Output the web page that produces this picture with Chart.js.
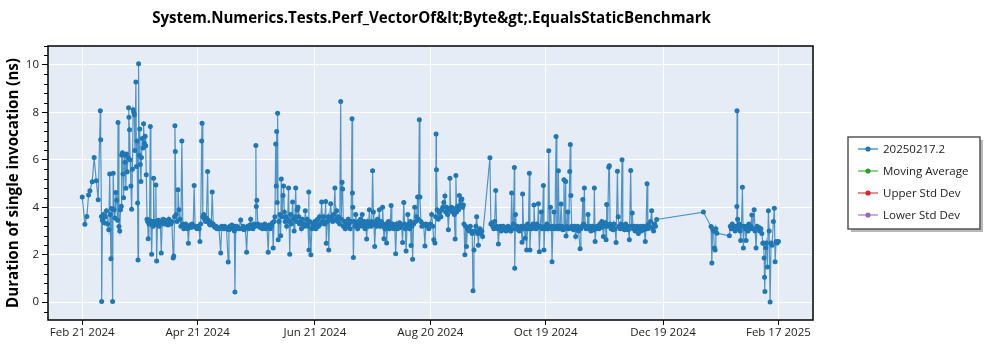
<!DOCTYPE html>
<html>
<head>
<meta charset="utf-8">
<script src="https://cdn.jsdelivr.net/npm/chart.js@4.4.1/dist/chart.umd.min.js"></script>
<style>
  body { margin: 0; background: #fff; }
  #wrap { width: 1000px; height: 350px; }
</style>
</head>
<body>
<div id="wrap"><canvas id="perfChart" width="1000" height="350"></canvas></div>
<script>
// run dates, as days after Feb 21 2024
var runDays = [
    0, 1.4, 2.4, 3.3, 4, 5.2, 6.2, 7.3, 8.3, 9.4,
    9.6, 10, 10.1, 10.5, 11, 11.5, 12, 12.6, 13.2, 13.8,
    14.3, 14.6, 14.9, 15.3, 15.8, 16.1, 16.6, 17, 17.5, 17.9,
    18.4, 18.6, 19.1, 19.5, 19.9, 20.3, 20.5, 20.9, 21.2, 21.5,
    21.9, 22.3, 22.7, 23.0, 23.4, 23.8, 24.1, 24.3, 24.6, 24.9,
    25.3, 25.7, 26.1, 26.5, 26.8, 27.1, 27.4, 27.9, 28.2, 28.5,
    28.8, 29.0, 29.3, 29.6, 29.9, 30.2, 30.5, 30.8, 31.2, 31.6,
    31.9, 32.3, 32.7, 33.0, 33.3, 33.7, 34.0, 34.3, 34.7, 35.0,
    35.4, 35.7, 36.1, 36.5, 36.8, 37.1, 37.5, 37.9, 38.3, 38.7,
    39.1, 39.6, 40.1, 40.6, 41.1, 41.6, 42.1, 42.6, 43.1, 43.6,
    44.1, 44.6, 45.1, 45.6, 46.1, 46.6, 47.3, 47.6, 48.0, 48.2,
    48.4, 48.8, 49.3, 49.8, 50.3, 50.8, 51.3, 51.8, 52.3, 52.8,
    53.3, 53.8, 54.3, 54.8, 55.2, 55.7, 56.2, 56.7, 57.2, 57.7,
    58.2, 58.7, 59.2, 59.7, 60.2, 60.8, 61.2, 61.6, 62.1, 62.3,
    62.7, 63.2, 63.6, 64.1, 64.6, 65.2, 65.6, 66.1, 66.6, 67.1,
    67.6, 68.1, 68.6, 69.1, 69.6, 70.1, 70.6, 71.1, 72.0, 72.5,
    73.0, 73.5, 74.0, 74.5, 75.0, 75.9, 76.3, 76.8, 77.3, 77.8,
    78.3, 78.8, 79.1, 79.4, 79.8, 80.3, 80.8, 81.5, 82.4, 83.0,
    83.6, 84.2, 84.8, 85.5, 86.0, 86.6, 87.2, 87.6, 88.2, 88.8,
    89.4, 90.0, 90.3, 90.5, 90.8, 91.3, 91.9, 92.5, 93.1, 93.7,
    94.3, 94.9, 95.5, 96.1, 96.7, 97.2, 97.8, 98.4, 98.9, 99.3,
    99.8, 100.2, 100.6, 100.9, 101.1, 101.4, 101.6, 101.9, 102.3, 102.8,
    103.2, 103.5, 104.0, 104.4, 104.7, 105.1, 105.5, 105.9, 106.3, 106.8,
    107.3, 107.6, 107.9, 108.3, 108.8, 109.4, 109.8, 110.2, 110.6, 111.0,
    111.4, 111.8, 112.2, 112.6, 113.0, 113.5, 114.0, 114.5, 115.0, 115.5,
    116.0, 116.5, 117.0, 117.4, 117.8, 117.9, 118.3, 118.9, 119.4, 119.9,
    120.4, 120.9, 121.4, 121.9, 122.4, 122.9, 123.4, 123.9, 124.5, 125.0,
    125.5, 126.0, 126.6, 126.9, 127.4, 127.9, 128.2, 128.6, 129.2, 129.7,
    130.2, 130.8, 131.4, 131.8, 132.3, 132.8, 133.3, 133.9, 134.4, 134.7,
    135.1, 135.4, 135.8, 136.3, 136.8, 137.3, 137.8, 138.3, 138.8, 139.3,
    139.8, 140.3, 140.5, 140.7, 141.0, 141.4, 141.8, 142.2, 142.7, 143.2,
    143.7, 144.2, 144.7, 145.2, 145.6, 146.1, 146.6, 147.1, 147.5, 147.9,
    148.4, 148.9, 149.3, 149.8, 150.3, 150.6, 151.0, 151.4, 151.7, 152.1,
    152.6, 153.1, 153.6, 154.0, 154.5, 155.0, 155.5, 156.0, 156.2, 156.6,
    156.9, 157.4, 157.9, 158.3, 158.8, 159.3, 159.8, 160.2, 160.6, 161.0,
    161.5, 162.0, 162.5, 163.0, 163.5, 164.0, 164.5, 165.0, 165.5, 166.0,
    166.6, 167.2, 167.6, 168.0, 168.4, 168.9, 169.3, 169.8, 170.3, 170.7,
    171.0, 171.4, 171.8, 172.3, 172.9, 173.4, 173.9, 174.4, 174.8, 175.3,
    175.6, 176.1, 176.6, 177.1, 177.6, 178.2, 178.7, 179.2, 179.7, 180.2,
    181.0, 181.7, 182.3, 182.8, 183.4, 183.8, 184.0, 184.2, 184.6, 185.1,
    185.5, 186.0, 186.5, 187.0, 187.5, 188.0, 188.6, 189.0, 189.5, 190.0,
    190.4, 190.8, 191.2, 191.6, 192.0, 192.5, 193.0, 193.5, 193.9, 194.3,
    194.7, 195.2, 195.7, 196.1, 196.6, 197.0, 197.4, 197.8, 198.2, 198.5,
    199.0, 199.4, 199.8, 200.3, 200.8, 201.3, 201.8, 202.3, 202.8, 203.2,
    203.7, 204.2, 204.7, 205.1, 205.6, 206.0, 206.4, 206.8, 207.3, 207.8,
    208.2, 212.0, 212.5, 213.0, 213.5, 214.0, 214.5, 215.0, 215.5, 216.0,
    216.4, 216.9, 217.4, 217.9, 218.4, 218.9, 219.4, 219.9, 220.4, 220.9,
    221.4, 221.9, 222.4, 222.9, 223.3, 223.8, 224.2, 224.7, 224.9, 225.3,
    225.8, 226.3, 226.8, 227.3, 227.8, 228.3, 228.7, 229.0, 229.5, 229.9,
    230.3, 230.7, 231.1, 231.6, 232.0, 232.5, 232.8, 233.3, 233.8, 234.4,
    234.9, 235.4, 235.9, 236.4, 236.8, 237.2, 237.7, 238.2, 238.7, 239.2,
    239.8, 240.1, 240.6, 241.1, 241.6, 242.1, 242.6, 243.0, 243.5, 244.0,
    244.3, 244.8, 245.3, 245.8, 246.4, 246.8, 247.2, 247.6, 248.0, 248.5,
    249.0, 249.5, 250.0, 250.5, 250.9, 251.4, 251.6, 252.0, 252.5, 253.0,
    253.5, 253.8, 254.1, 254.5, 255.0, 255.5, 256.0, 256.6, 257.1, 257.6,
    258.1, 258.9, 259.3, 259.8, 260.3, 260.7, 261.1, 261.5, 262.0, 262.5,
    263.0, 263.5, 264.0, 264.5, 265.0, 265.5, 266.0, 266.3, 266.7, 267.2,
    267.7, 268.2, 268.7, 269.2, 269.7, 270.2, 270.6, 271.0, 271.5, 272.0,
    272.4, 272.7, 273.2, 273.8, 274.1, 274.5, 275.0, 275.5, 276.0, 276.5,
    277.1, 277.6, 278.3, 278.7, 279.2, 279.7, 280.2, 280.7, 281.1, 281.6,
    282.1, 282.6, 283.1, 283.6, 284.0, 284.5, 285.2, 285.6, 286.0, 286.5,
    287.0, 287.5, 288.0, 288.5, 289.2, 289.7, 290.2, 290.7, 291.2, 291.7,
    292.2, 292.8, 293.2, 293.7, 294.1, 294.5, 295.0, 295.5, 296.1, 296.6,
    297.1, 297.6, 298.1, 298.7,
    323.0, 327.0, 327.4, 327.8, 328.3, 328.7, 329.1, 329.5, 330.0, 336.5,
    337.0, 337.5, 338.0, 338.5, 339.0, 339.5, 340.0, 340.4, 340.5, 340.8,
    341.2, 341.7, 342.1, 342.4, 342.8, 343.3, 343.8, 344.2, 344.7, 345.2,
    345.7, 346.2, 346.7, 347.2, 347.7, 348.2, 348.7, 349.4, 349.9, 350.4,
    350.9, 351.4, 351.9, 352.4, 352.9, 353.4, 353.9, 354.3, 354.6, 354.8,
    355.0, 355.4, 355.8, 356.3, 356.8, 357.2, 357.7, 358.2, 358.7, 359.4,
    359.9, 360.3, 360.8, 361.3, 362.0
];

// duration of single invocation, ns
var durations = [
    4.43, 3.29, 3.61, 4.52, 4.70, 5.08, 6.10, 5.12, 4.32, 8.07,
    6.85, 3.61, 0.03, 3.45, 3.70, 3.35, 3.60, 3.85, 3.30, 3.05,
    5.40, 3.70, 1.83, 3.95, 0.03, 5.44, 3.90, 3.55, 4.62, 4.30,
    3.45, 7.58, 3.19, 3.00, 3.90, 4.05, 6.21, 6.30, 5.40, 4.40,
    6.20, 5.90, 4.80, 6.25, 5.50, 6.10, 8.20, 7.80, 7.27, 6.00,
    4.90, 3.92, 5.60, 8.11, 8.00, 7.90, 6.40, 9.28, 5.72, 6.80,
    4.18, 1.78, 10.05, 6.20, 7.30, 5.80, 5.09, 6.10, 6.90, 6.50,
    7.52, 6.70, 7.00, 6.60, 5.37, 3.50, 3.40, 2.68, 3.30, 3.45,
    7.41, 3.30, 2.02, 3.40, 3.20, 5.22, 3.25, 3.40, 4.94, 1.74,
    3.30, 3.45, 3.20, 3.40, 2.07, 3.35, 3.50, 3.30, 3.45, 3.30,
    3.40, 3.25, 3.50, 3.35, 3.30, 3.40, 1.86, 1.95, 3.60, 7.44,
    6.35, 3.70, 3.40, 4.74, 3.90, 3.50, 3.20, 6.80, 3.30, 3.10,
    3.25, 3.30, 3.20, 3.10, 2.49, 3.20, 3.25, 3.15, 3.30, 3.20,
    4.92, 3.20, 3.15, 3.10, 3.20, 3.10, 2.56, 3.30, 6.80, 7.54,
    3.60, 3.70, 3.50, 3.40, 3.55, 5.51, 3.45, 3.30, 3.25, 3.35,
    4.65, 3.30, 3.20, 3.15, 3.20, 3.10, 3.15, 3.10, 2.07, 3.20,
    3.15, 3.10, 3.20, 3.10, 3.15, 1.70, 3.05, 3.20, 3.15, 3.25,
    3.10, 3.20, 3.00, 0.43, 3.10, 3.20, 3.15, 3.10, 3.47, 3.10,
    3.20, 3.05, 3.15, 2.11, 3.20, 3.10, 3.25, 3.50, 3.20, 3.10,
    3.30, 3.20, 6.61, 4.03, 4.30, 3.30, 3.20, 3.15, 3.25, 3.10,
    3.20, 3.30, 3.10, 3.20, 2.11, 3.25, 3.10, 3.20, 3.35, 2.28,
    3.40, 3.60, 6.67, 4.90, 7.20, 4.20, 7.97, 2.63, 3.40, 3.70,
    2.80, 5.19, 3.60, 4.50, 4.90, 3.80, 3.40, 3.60, 3.20, 3.50,
    4.81, 3.40, 2.02, 3.70, 3.30, 4.22, 3.50, 3.00, 3.60, 4.81,
    3.40, 3.90, 4.00, 3.60, 3.30, 3.40, 3.10, 3.50, 3.30, 3.20,
    3.85, 3.30, 3.50, 3.20, 4.65, 2.20, 3.40, 2.00, 3.10, 3.30,
    3.20, 3.40, 3.10, 3.30, 3.50, 3.20, 3.60, 3.30, 4.22, 3.40,
    3.60, 3.30, 4.25, 2.49, 3.40, 3.60, 2.20, 3.50, 4.15, 3.60,
    3.40, 3.70, 4.81, 3.50, 3.85, 3.40, 3.60, 3.30, 8.46, 3.50,
    5.06, 4.77, 3.20, 3.40, 3.10, 3.30, 3.20, 3.50, 3.30, 3.10,
    3.40, 7.73, 4.60, 4.00, 1.88, 3.40, 3.20, 3.70, 3.30, 3.10,
    3.40, 3.20, 3.50, 3.30, 3.70, 3.20, 3.40, 3.10, 3.30, 2.66,
    3.40, 3.20, 3.90, 3.30, 3.20, 3.40, 5.54, 3.80, 3.30, 2.35,
    3.40, 3.20, 3.50, 3.30, 3.90, 3.20, 3.40, 3.30, 4.00, 3.20,
    2.67, 3.10, 3.30, 2.50, 3.20, 3.40, 3.10, 3.30, 4.08, 3.20,
    3.30, 3.10, 3.20, 2.04, 3.30, 3.10, 3.20, 3.35, 3.15, 3.25,
    2.52, 4.20, 3.30, 3.10, 2.16, 3.20, 3.70, 3.30, 3.10, 3.40,
    2.39, 3.20, 1.81, 3.30, 4.00, 3.40, 3.60, 4.43, 3.50, 7.69,
    4.43, 3.40, 3.20, 3.30, 3.25, 2.37, 3.30, 3.20, 3.25, 3.10,
    3.30, 3.70, 3.20, 2.63, 2.50, 3.60, 7.09, 5.58, 3.90, 3.50,
    3.80, 3.80, 3.60, 3.90, 4.00, 4.20, 4.48, 3.80, 4.00, 3.70,
    3.05, 3.90, 5.23, 3.90, 4.00, 3.80, 3.95, 3.70, 2.66, 5.34,
    3.80, 4.05, 3.90, 4.50, 4.10, 4.30, 4.35, 4.00, 4.10, 3.30,
    2.00, 3.20, 2.35, 3.10, 3.05, 3.00, 3.20, 3.00, 2.90, 0.48,
    2.20, 3.00, 3.20, 3.60, 2.90, 2.40, 3.00, 3.10, 2.90, 3.00,
    2.77, 6.09, 3.30, 3.35, 3.20, 3.10, 3.40, 4.71, 3.20, 3.10,
    2.45, 3.10, 3.20, 3.00, 3.10, 3.20, 3.05, 3.15, 3.00, 3.10,
    3.20, 3.05, 3.15, 3.00, 4.60, 3.10, 3.30, 5.68, 1.43, 3.70,
    3.10, 3.20, 3.05, 3.00, 3.15, 3.20, 2.53, 4.56, 3.10, 3.20,
    2.70, 3.10, 2.20, 3.30, 3.10, 5.44, 2.20, 3.20, 3.10, 3.30,
    4.10, 3.20, 3.10, 3.30, 3.15, 4.15, 2.13, 3.20, 3.80, 3.10,
    4.92, 2.20, 3.20, 3.10, 3.30, 3.10, 6.38, 3.20, 4.00, 3.10,
    1.71, 3.20, 3.80, 3.10, 6.99, 3.20, 3.10, 5.54, 3.20, 3.10,
    4.14, 3.20, 3.05, 5.16, 3.10, 5.09, 2.79, 3.20, 3.80, 3.10,
    5.51, 6.65, 4.50, 3.20, 3.10, 3.05, 3.20, 2.77, 3.10, 3.20,
    3.00, 2.25, 3.10, 3.20, 4.33, 3.30, 4.81, 3.20, 3.10, 3.20,
    3.70, 3.10, 3.20, 3.00, 3.10, 3.20, 3.05, 4.81, 2.56, 3.10,
    3.20, 3.20, 3.10, 3.30, 3.15, 3.40, 3.20, 2.77, 3.20, 3.35,
    2.63, 4.12, 3.20, 5.69, 5.75, 3.30, 3.10, 3.20, 3.05, 3.30,
    3.10, 2.52, 5.52, 3.60, 3.20, 3.10, 3.30, 6.00, 3.10, 3.20,
    3.05, 3.30, 3.15, 3.20, 3.05, 2.63, 5.55, 3.20, 3.76, 3.10,
    3.20, 3.00, 3.10, 3.20, 2.90, 3.10, 3.20, 3.00, 3.10, 3.20,
    3.05, 2.56, 3.20, 4.99, 3.10, 3.30, 3.20, 3.40, 3.85, 3.10,
    3.00, 3.30, 3.20, 3.49,
    3.80, 3.19, 1.65, 3.10, 3.00, 2.28, 2.20, 3.10, 2.91, 2.80,
    3.20, 3.10, 3.30, 3.10, 3.20, 3.00, 3.20, 4.03, 8.07, 3.50,
    3.10, 3.30, 3.00, 2.60, 3.20, 4.85, 2.28, 3.20, 3.10, 2.60,
    3.20, 3.00, 3.30, 3.10, 3.20, 3.68, 3.10, 3.90, 3.00, 2.28,
    3.20, 3.10, 3.15, 3.00, 3.10, 2.90, 2.49, 2.50, 1.86, 1.05,
    0.45, 2.30, 2.50, 1.48, 3.85, 3.00, 0.01, 2.50, 2.40, 3.40,
    3.96, 1.71, 2.56, 2.50, 2.56
];

var tickDays = [0, 60, 121, 181, 241, 302, 362];
var tickLabels = ["Feb 21 2024", "Apr 21 2024", "Jun 21 2024", "Aug 20 2024", "Oct 19 2024", "Dec 19 2024", "Feb 17 2025"];
var yTicks = [0, 2, 4, 6, 8, 10];

var seriesNames = ["20250217.2", "Moving Average", "Upper Std Dev", "Lower Std Dev"];
var seriesColors = ["#1f77b4", "#2ca02c", "#d62728", "#9467bd"];
var lineColors = ["rgba(31,119,180,0.75)", "rgba(44,160,44,0.7)", "rgba(214,39,40,0.7)", "rgba(148,103,189,0.7)"];

var chartTitle = "System.Numerics.Tests.Perf_VectorOf&lt;Byte&gt;.EqualsStaticBenchmark";
var yTitle = "Duration of single invocation (ns)";

var FONT = '"Open Sans", "Noto Sans", sans-serif';

// pick a font size so that the text spans the given width
function fitSize(ctx, text, weight, width) {
    ctx.font = weight + " 20px " + FONT;
    return 20 * width / ctx.measureText(text).width;
}

var decorations = {
    id: "decorations",
    beforeDraw: function (chart) {
        var ctx = chart.ctx, ca = chart.chartArea;
        ctx.save();
        ctx.fillStyle = "#ffffff";
        ctx.fillRect(0, 0, chart.width, chart.height);
        ctx.fillStyle = "#e5ecf6";
        ctx.fillRect(ca.left, ca.top, ca.right - ca.left, ca.bottom - ca.top);
        ctx.restore();
    },
    afterDraw: function (chart) {
        var ctx = chart.ctx, ca = chart.chartArea;
        var yScale = chart.scales.y;
        ctx.save();

        // frame
        ctx.strokeStyle = "#000";
        ctx.lineWidth = 1.5;
        ctx.strokeRect(ca.left, ca.top, ca.right - ca.left, ca.bottom - ca.top);

        // minor ticks on y
        ctx.lineWidth = 1;
        for (var k = -1; k <= 27; k++) {
            if (k % 5 === 0) continue;
            var py = Math.round(yScale.getPixelForValue(k * 0.4)) + 0.5;
            if (py < ca.top || py > ca.bottom) continue;
            ctx.beginPath();
            ctx.moveTo(ca.left - 4, py);
            ctx.lineTo(ca.left, py);
            ctx.stroke();
        }

        // title
        ctx.fillStyle = "#000";
        ctx.textAlign = "center";
        ctx.textBaseline = "middle";
        var ts = fitSize(ctx, chartTitle, "bold", 559);
        ctx.font = "bold " + ts + "px " + FONT;
        ctx.fillText(chartTitle, 431.5, 18.5);

        // y axis title
        var ys = fitSize(ctx, yTitle, "bold", 250);
        ctx.font = "bold " + ys + "px " + FONT;
        ctx.translate(13.5, 183);
        ctx.rotate(-Math.PI / 2);
        ctx.fillText(yTitle, 0, 0);
        ctx.setTransform(1, 0, 0, 1, 0, 0);

        // legend box with shadow
        var bx = 848, by = 137, bw = 132, bh = 92;
        ctx.fillStyle = "#b8b8b8";
        ctx.fillRect(bx + 3, by + 3, bw, bh);
        ctx.fillStyle = "#ffffff";
        ctx.fillRect(bx, by, bw, bh);
        ctx.strokeStyle = "#555";
        ctx.lineWidth = 1.5;
        ctx.strokeRect(bx, by, bw, bh);

        ctx.textAlign = "left";
        ctx.font = "11.5px " + FONT;
        chart.data.datasets.forEach(function (ds, i) {
            var ly = 149 + i * 22;
            ctx.strokeStyle = lineColors[i];
            ctx.lineWidth = 1.5;
            ctx.beginPath();
            ctx.moveTo(858, ly);
            ctx.lineTo(878, ly);
            ctx.stroke();
            ctx.fillStyle = seriesColors[i];
            ctx.beginPath();
            ctx.arc(868, ly, 2.6, 0, Math.PI * 2);
            ctx.fill();
            ctx.fillStyle = "#222";
            ctx.fillText(ds.label, 883, ly + 0.5);
        });
        ctx.restore();
    }
};

var points = runDays.map(function (d, i) {
    return { x: d, y: durations[i] };
});

var datasets = seriesNames.map(function (name, i) {
    return {
        label: name,
        data: i === 0 ? points : [],
        showLine: true,
        borderColor: lineColors[i],
        borderWidth: 1.2,
        pointRadius: 2.5,
        pointBackgroundColor: seriesColors[i],
        pointBorderWidth: 0,
        tension: 0
    };
});

var tickFont = { family: FONT, size: 11.5 };

new Chart(document.getElementById("perfChart").getContext("2d"), {
    type: "scatter",
    data: { datasets: datasets },
    options: {
        responsive: false,
        animation: false,
        layout: { padding: { left: 0, top: 46, right: 187, bottom: 0 } },
        plugins: {
            legend: { display: false },
            tooltip: { enabled: false },
            title: { display: false }
        },
        scales: {
            x: {
                type: "linear",
                min: -17.8,
                max: 380,
                afterBuildTicks: function (s) {
                    s.ticks = tickDays.map(function (d) { return { value: d }; });
                },
                afterFit: function (s) { s.height = 30; },
                ticks: {
                    autoSkip: false,
                    maxRotation: 0,
                    padding: 1,
                    color: "#222",
                    font: tickFont,
                    callback: function (v) { return tickLabels[tickDays.indexOf(v)]; }
                },
                grid: { color: "#ffffff", lineWidth: 1, tickColor: "#000", tickLength: 5 },
                border: { display: false }
            },
            y: {
                min: -0.75,
                max: 10.8,
                afterBuildTicks: function (s) {
                    s.ticks = yTicks.map(function (v) { return { value: v }; });
                },
                afterFit: function (s) { s.width = 48; },
                ticks: { padding: 3, color: "#222", font: tickFont },
                grid: { color: "#ffffff", lineWidth: 1, tickColor: "#000", tickLength: 6 },
                border: { display: false }
            }
        }
    },
    plugins: [decorations]
});
</script>
</body>
</html>
